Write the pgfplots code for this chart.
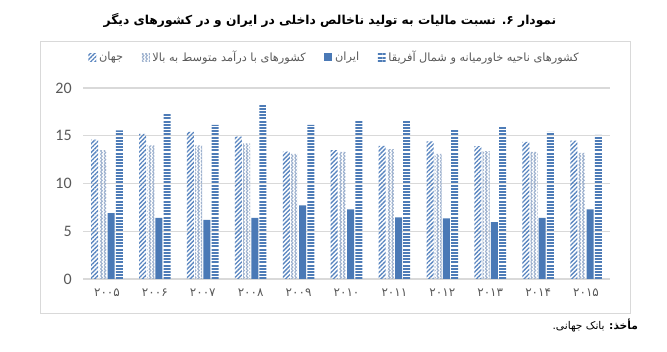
\documentclass[border=0pt]{standalone}
\usepackage{fontspec}
\setmainfont{Carlito}
\newfontfamily\fa[Script=Arabic]{DejaVu Sans}
\TeXXeTstate=1
\usepackage{pgfplots}
\usepackage{pgfplotstable}
\pgfplotsset{compat=1.18}
\usetikzlibrary{patterns,patterns.meta}

\definecolor{cW}{HTML}{5A86C0}
\definecolor{cU}{HTML}{9DB1CE}
\definecolor{cI}{HTML}{4A79B6}
\definecolor{cM}{HTML}{4E7CB7}
\definecolor{gridc}{HTML}{D9D9D9}
\definecolor{txt}{HTML}{595959}

\pgfdeclarepatternformonly{zigzag}{\pgfqpoint{-1pt}{-1pt}}{\pgfqpoint{4pt}{4pt}}{\pgfqpoint{2.6pt}{2.6pt}}{%
  \pgfsetlinewidth{0.85pt}%
  \pgfpathmoveto{\pgfqpoint{0pt}{0pt}}%
  \pgfpathlineto{\pgfqpoint{1.3pt}{1.3pt}}%
  \pgfpathlineto{\pgfqpoint{0pt}{2.6pt}}%
  \pgfusepath{stroke}%
}

\pgfplotstableread{
x w u i m
0 14.6 13.5 6.9 15.55
1 15.2 14.0 6.4 17.3
2 15.4 14.0 6.2 16.15
3 14.9 14.2 6.4 18.4
4 13.35 13.1 7.7 16.15
5 13.5 13.3 7.3 16.55
6 13.95 13.6 6.45 16.6
7 14.4 13.1 6.35 15.6
8 13.9 13.4 5.95 15.9
9 14.35 13.3 6.4 15.4
10 14.5 13.2 7.3 15.1
}\data

\begin{document}
\begin{tikzpicture}
\useasboundingbox (0,0) rectangle (500.25pt,264pt);
\draw[gridc, line width=0.75pt] (30pt,28.5pt) rectangle (472.5pt,232.5pt);
\node[font=\fa\bfseries\fontsize{9.2}{12}\selectfont] at (247.5pt,249pt)
  {\beginR نمودار ۶. نسبت مالیات به تولید ناخالص داخلی در ایران و در کشورهای دیگر\endR};
\node[anchor=east, font=\fa\fontsize{8}{10}\selectfont] at (482pt,19.5pt)
  {\beginR\textbf{مأخذ:} بانک جهانی.\endR};
\begin{axis}[
  at={(62.25pt,54.75pt)}, anchor=south west,
  scale only axis, width=395.25pt, height=143.25pt,
  ymin=0, ymax=20, xmin=-0.5, xmax=10.5,
  ytick={0,5,10,15,20},
  xtick={0,1,2,3,4,5,6,7,8,9,10},
  xticklabels={۲۰۰۵,۲۰۰۶,۲۰۰۷,۲۰۰۸,۲۰۰۹,۲۰۱۰,۲۰۱۱,۲۰۱۲,۲۰۱۳,۲۰۱۴,۲۰۱۵},
  xticklabel style={font=\fa\fontsize{9}{10}\selectfont, text=txt, yshift=-4pt},
  yticklabel style={font=\fontsize{12}{12}\selectfont, text=txt, xshift=-5pt},
  /pgf/number format/assume math mode=true,
  ybar=0.9pt, bar width=5.25pt,
  axis line style={draw=none},
  major tick length=0pt,
  ymajorgrids, grid style={gridc, line width=0.8pt},
  legend columns=4,
  legend image code/.code={\path[#1] (0pt,-3pt) rectangle (6pt,3pt);},
  legend style={at={(0.478,1.162)}, anchor=center, draw=none, fill=none,
    font=\fa\fontsize{8.5}{10}\selectfont, text=txt,
    /tikz/every even column/.append style={column sep=12pt}},
]
\addplot[draw=none, pattern={Lines[angle=45,distance=2.3pt,line width=1pt]}, pattern color=cW] table[x=x,y=w]{\data};
\addlegendentry{\beginR جهان\endR}
\addplot[draw=none, pattern=zigzag, pattern color=cU] table[x=x,y=u]{\data};
\addlegendentry{\beginR کشورهای با درآمد متوسط به بالا\endR}
\addplot[draw=none, fill=cI] table[x=x,y=i]{\data};
\addlegendentry{\beginR ایران\endR}
\addplot[draw=none, pattern={Lines[angle=0,distance=2.4pt,line width=1.4pt]}, pattern color=cM] table[x=x,y=m]{\data};
\addlegendentry{\beginR کشورهای ناحیه خاورمیانه و شمال آفریقا\endR}
\end{axis}
\end{tikzpicture}
\end{document}
